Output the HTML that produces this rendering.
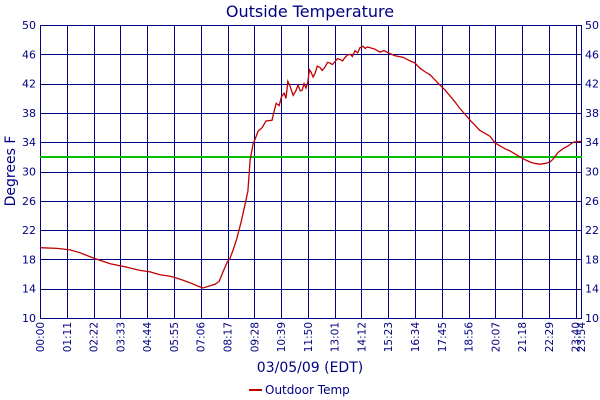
<!DOCTYPE html>
<html><head><meta charset="utf-8"><style>
body{margin:0;background:#fff}
svg{display:block;font-family:"DejaVu Sans","Liberation Sans",sans-serif}
</style></head><body>
<svg id="chart" width="600" height="400" viewBox="0 0 600 400">
<text x="310" y="17" text-anchor="middle" font-size="16" fill="#000080">Outside Temperature</text>
<text transform="translate(15,171) rotate(-90)" text-anchor="middle" font-size="14" fill="#000080">Degrees F</text>
<text x="310" y="372" text-anchor="middle" font-size="14" fill="#000080">03/05/09 (EDT)</text>
<g id="grid"></g><g id="series"></g><g id="ticks"></g>
<g>
<rect x="249" y="389" width="13" height="2" fill="#c00000"/>
<text x="265" y="394" font-size="12" fill="#000080">Outdoor Temp</text>
</g>
</svg>
<script>
const yTicks=[10,14,18,22,26,30,34,38,42,46,50];
const xTickMinutes=[0,71,142,213,284,355,426,497,568,639,710,781,852,923,994,1065,1136,1207,1278,1349,1420,1434];
const xTickLabels=["00:00","01:11","02:22","03:33","04:44","05:55","07:06","08:17","09:28","10:39","11:50","13:01","14:12","15:23","16:34","17:45","18:56","20:07","21:18","22:29","23:40","23:54"];
const refLine=32;
const times=[0,45,80,106,146,186,225,265,292,318,345,371,398,416,432,451,464,475,485,496,504,512,522,533,543,551,557,565,570,578,589,599,615,618,626,634,640,647,652,657,663,671,678,684,690,695,700,705,710,714,718,724,729,735,742,748,756,762,769,775,782,788,795,802,809,815,822,828,835,842,848,856,862,868,875,888,901,912,923,941,962,981,994,1007,1021,1034,1047,1060,1074,1087,1100,1113,1127,1140,1153,1166,1180,1193,1206,1219,1233,1246,1259,1272,1286,1299,1312,1325,1339,1352,1360,1373,1386,1400,1413,1426,1434];
const temps=[19.6,19.5,19.3,18.9,18.1,17.4,17.0,16.5,16.3,15.9,15.7,15.3,14.8,14.4,14.1,14.4,14.6,15.0,16.3,17.6,18.2,19.3,20.9,23.1,25.4,27.3,31.6,33.8,34.4,35.5,36.0,36.9,37.0,37.7,39.3,39.0,40.2,40.7,40.0,42.3,41.6,40.4,41.0,41.8,41.0,41.1,42.0,41.4,42.2,43.9,43.6,42.9,43.4,44.4,44.2,43.8,44.3,44.9,44.8,44.6,45.0,45.4,45.3,45.1,45.6,45.9,46.0,45.7,46.5,46.2,46.9,47.1,46.8,47.0,46.9,46.7,46.3,46.5,46.2,45.8,45.6,45.1,44.8,44.1,43.6,43.2,42.5,41.8,41.1,40.3,39.5,38.6,37.8,37.0,36.3,35.6,35.2,34.8,33.9,33.5,33.1,32.8,32.4,32.0,31.6,31.3,31.1,31.0,31.1,31.3,31.7,32.6,33.1,33.5,34.0,34.1,34.1];
const L=40,R=581,T=25,B=318,ymin=10,ymax=50,tmax=1434;
const xs=m=>L+(R-L)*m/tmax;
const ys=v=>B-(B-T)*(v-ymin)/(ymax-ymin);
const NS="http://www.w3.org/2000/svg";
const g=document.getElementById('grid'),tk=document.getElementById('ticks'),s=document.getElementById('series');
function mk(tag,at,parent){const e=document.createElementNS(NS,tag);for(const k in at)e.setAttribute(k,at[k]);parent.appendChild(e);return e;}
yTicks.forEach(v=>{
 const ln=mk('rect',{x:L,y:Math.round(ys(v)),width:R-L+1,height:1,fill:'#000080'},g);
 
 
 const a=mk('text',{x:L-4,y:ys(v)+4,'text-anchor':'end','font-size':11,fill:'#000080'},tk);a.textContent=v;
 
 
 const b=mk('text',{x:R+4,y:ys(v)+4,'font-size':11,fill:'#000080'},tk);b.textContent=v;
 
 
});
xTickMinutes.forEach((m,i)=>{
 const ln=mk('rect',{x:Math.round(xs(m)),y:T,width:1,height:B-T,fill:'#000080'},g);
 
 
 const t=mk('text',{transform:`translate(${xs(m)+4},${B+4}) rotate(-90)`,'text-anchor':'end','font-size':10.5,fill:'#000080'},tk);
 t.textContent=xTickLabels[i];
 
 
});
const ref=mk('rect',{x:L,y:Math.round(ys(refLine))-1,width:R-L+1,height:2,fill:'#00c000'},g);


const p=mk('polyline',{points:times.map((m,i)=>xs(m)+','+ys(temps[i])).join(' '),fill:'none',stroke:'#c00000','stroke-width':1.3},s);


</script>
</body></html>
